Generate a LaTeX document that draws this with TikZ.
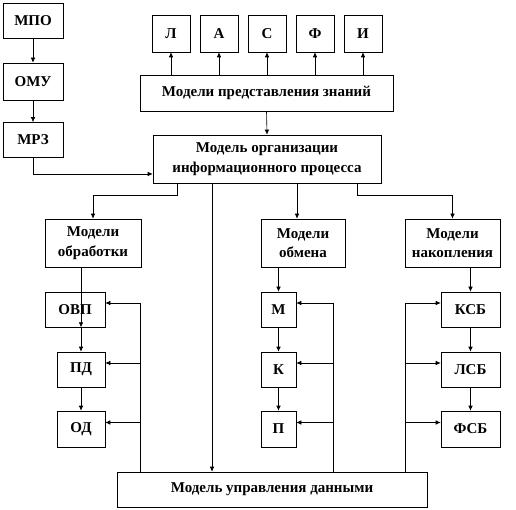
\documentclass[tikz,border=0pt]{standalone}
\usepackage{fontspec}
\setmainfont{Liberation Serif}
\usetikzlibrary{arrows.meta,calc}
\tikzstyle{blk} = [draw, line width=0.6pt, inner sep=0pt, align=center, font=\bfseries\fontsize{15}{19.5}\selectfont]
\tikzstyle{ln} = [line width=0.6pt]

\begin{document}
\begin{tikzpicture}[x=1pt,y=-1pt,>={Latex[length=5pt,width=4.5pt]}]
\useasboundingbox (0,0) rectangle (516,510);

\node[blk, minimum width=60pt, minimum height=35pt] (mpo) at (33,20.5) {МПО};
\node[blk, minimum width=60pt, minimum height=37pt] (omu) at (33,81.5) {ОМУ};
\node[blk, minimum width=60pt, minimum height=35pt] (mrz) at (33,140) {МРЗ};

\foreach \t [count=\i from 0] in {Л,А,С,Ф,И} {
    \node[blk, minimum width=38pt, minimum height=37pt] (k\i) at (171+48*\i,33.5) {\t};
}
\node[blk, minimum width=253pt, minimum height=36pt] (mpz) at (266.5,93) {Модели представления знаний};
\node[blk, minimum width=228pt, minimum height=48pt] (org) at (267,159) {Модель организации\\информационного процесса};

\node[blk, minimum width=96pt, minimum height=48pt] (obr) at (93,243) {Модели\\обработки};
\node[blk, minimum width=60pt, minimum height=35pt] (ovp) at (75,309.5) {ОВП};
\node[blk, minimum width=48pt, minimum height=35pt] (pd) at (81,369.5) {ПД};
\node[blk, minimum width=48pt, minimum height=36pt] (od) at (81,429) {ОД};

\node[blk, minimum width=84pt, minimum height=48pt] (obm) at (303,243) {Модели\\обмена};
\node[blk, minimum width=35pt, minimum height=35pt] (m) at (278.5,309.5) {М};
\node[blk, minimum width=35pt, minimum height=35pt] (k) at (278.5,369.5) {К};
\node[blk, minimum width=35pt, minimum height=36pt] (p) at (278.5,429) {П};

\node[blk, minimum width=95pt, minimum height=48pt] (nak) at (452.5,243) {Модели\\накопления};
\node[blk, minimum width=59pt, minimum height=35pt] (ksb) at (470.5,309.5) {КСБ};
\node[blk, minimum width=59pt, minimum height=35pt] (lsb) at (470.5,369.5) {ЛСБ};
\node[blk, minimum width=59pt, minimum height=36pt] (fsb) at (470.5,429) {ФСБ};

\node[blk, minimum width=310pt, minimum height=35pt] (upr) at (272,489.5) {Модель управления данными};

% left column
\draw[ln,->] (mpo) -- (omu);
\draw[ln,->] (omu) -- (mrz);
\coordinate (c1) at (33,174);
\draw[ln,->] (mrz.south) -- (c1) -- (org.west |- c1);

% knowledge models
\foreach \i in {0,...,4} {
    \draw[ln,->] (mpz.north -| k\i) -- (k\i.south);
}
\draw[ln,->] (mpz.south) -- (org.north);

% branches below org
\coordinate (b1) at (177,195);
\coordinate (b2) at (357,195);
\coordinate (b3) at (212,0);
\coordinate (b4) at (297,0);
\draw[ln,->] (org.south -| b1) -- (b1) -- (b1 -| obr) -- (obr.north);
\draw[ln,->] (org.south -| b2) -- (b2) -- (b2 -| nak) -- (nak.north);
\draw[ln,->] (org.south -| b3) -- (upr.north -| b3);
\draw[ln,->] (org.south -| b4) -- (obm.north -| b4);

\draw[ln,->] (obr.south -| pd) -- (ovp.south -| pd);
\draw[ln,->] (ovp.south -| pd) -- (pd.north);
\draw[ln,->] (pd) -- (od);
\draw[ln,->] (obm.south -| m) -- (m.north);
\draw[ln,->] (m) -- (k);
\draw[ln,->] (k) -- (p);
\draw[ln,->] (nak.south -| ksb) -- (ksb.north);
\draw[ln,->] (ksb) -- (lsb);
\draw[ln,->] (lsb) -- (fsb);

% feedback from data control
\coordinate (f1) at (140,303);
\coordinate (f2) at (333,303);
\coordinate (f3) at (405,303);
\draw[ln] (upr.north -| f1) -- (f1);
\draw[ln] (upr.north -| f2) -- (f2);
\draw[ln] (upr.north -| f3) -- (f3);
\foreach \n in {ovp,pd,od,m,k,p} {
    \coordinate (e\n) at ($(\n.east)+(0,-6.5)$);
}
\foreach \n in {ksb,lsb,fsb} {
    \coordinate (e\n) at ($(\n.west)+(0,-6.5)$);
}
\foreach \n in {ovp,pd,od} {
    \draw[ln,->] (e\n -| f1) -- (e\n);
}
\foreach \n in {m,k,p} {
    \draw[ln,->] (e\n -| f2) -- (e\n);
}
\foreach \n in {ksb,lsb,fsb} {
    \draw[ln,->] (e\n -| f3) -- (e\n);
}
\end{tikzpicture}
\end{document}
